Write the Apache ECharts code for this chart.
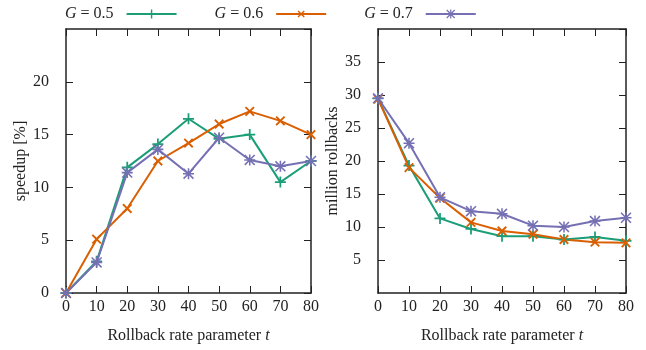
<!DOCTYPE html>
<html>
<head>
<meta charset="utf-8">
<script src="https://cdn.jsdelivr.net/npm/echarts@6/dist/echarts.min.js"></script>
<style>
    html, body { margin: 0; padding: 0; background: #fff; }
    #main { width: 646px; height: 350px; }
</style>
</head>
<body>
<div id="main"></div>
<script>
//rollback rate t
var t_values = [0, 10, 20, 30, 40, 50, 60, 70, 80];
var series_names = ['G = 0.5', 'G = 0.6', 'G = 0.7'];

//speedup [%]
var speedup_g05 = [0, 3.0, 11.9, 14.1, 16.5, 14.6, 15.0, 10.5, 12.5];
var speedup_g06 = [0, 5.1, 8.0, 12.5, 14.2, 16.0, 17.2, 16.3, 15.0];
var speedup_g07 = [0, 2.9, 11.4, 13.6, 11.3, 14.7, 12.6, 12.0, 12.5];

//million rollbacks
var rollbacks_g05 = [29.5, 19.3, 11.3, 9.7, 8.6, 8.6, 8.1, 8.5, 7.9];
var rollbacks_g06 = [29.4, 19.0, 14.4, 10.7, 9.4, 8.9, 8.1, 7.7, 7.6];
var rollbacks_g07 = [29.5, 22.7, 14.5, 12.4, 12.0, 10.2, 10.0, 10.9, 11.4];

var colors = ['#1b9e77', '#d95f02', '#7570b3'];
var font = 'Liberation Serif';
var fsize = 16;

var plus_symbol = 'path://M4.2,0H5.8V4.2H10V5.8H5.8V10H4.2V5.8H0V4.2H4.2Z';
var star_symbol = 'path://M4.3,0H5.7V4.3H10V5.7H5.7V10H4.3V5.7H0V4.3H4.3Z' +
    'M0,1L1,0L10,9L9,10Z M9,0L10,1L1,10L0,9Z';
var symbols = [plus_symbol, plus_symbol, star_symbol];
var rotates = [0, 45, 0];

function pairs(ys) {
    return t_values.map(function (t, i) { return [t, ys[i]]; });
}

var axis_line = { show: true, onZero: false, lineStyle: { color: '#222', width: 1.5 } };
var axis_tick = { show: true, inside: true, length: 7, lineStyle: { color: '#222' } };

function bottomAxis(grid) {
    return {
        type: 'value', gridIndex: grid, position: 'bottom',
        min: 0, max: 80, interval: 10,
        name: 'Rollback rate parameter {i|t}',
        nameLocation: 'middle', nameGap: 35,
        nameTextStyle: { fontFamily: font, fontSize: fsize, color: '#222', rich: { i: { fontStyle: 'italic', fontFamily: font, fontSize: fsize } } },
        axisLine: axis_line,
        axisTick: axis_tick,
        axisLabel: { fontFamily: font, fontSize: fsize, color: '#222', margin: 6 },
        splitLine: { show: false }
    };
}
function topAxis(grid) {
    return {
        type: 'value', gridIndex: grid, position: 'top',
        min: 0, max: 80, interval: 10,
        axisLine: axis_line,
        axisTick: axis_tick,
        axisLabel: { show: false },
        splitLine: { show: false }
    };
}
function leftAxis(grid, max, name) {
    return {
        type: 'value', gridIndex: grid, position: 'left',
        min: 0, max: max, interval: 5,
        name: name, nameLocation: 'middle', nameGap: grid == 0 ? 34 : 36,
        nameTextStyle: { fontFamily: font, fontSize: fsize, color: '#222' },
        axisLine: axis_line,
        axisTick: axis_tick,
        axisLabel: { fontFamily: font, fontSize: fsize, color: '#222', margin: 17, showMaxLabel: false, showMinLabel: grid == 0 },
        splitLine: { show: false }
    };
}
function rightAxis(grid, max) {
    return {
        type: 'value', gridIndex: grid, position: 'right',
        min: 0, max: max, interval: 5,
        axisLine: axis_line,
        axisTick: axis_tick,
        axisLabel: { show: false },
        splitLine: { show: false }
    };
}

function makeSeries(name, idx, data, axis) {
    return {
        name: name,
        type: 'line',
        xAxisIndex: axis,
        yAxisIndex: axis,
        data: pairs(data),
        symbol: symbols[idx],
        symbolRotate: rotates[idx],
        symbolSize: idx == 1 ? 12 : 11,
        showAllSymbol: true,
        color: colors[idx],
        lineStyle: { width: 2, color: colors[idx] },
        itemStyle: { color: colors[idx] },
        animation: false
    };
}

var chart = echarts.init(document.getElementById('main'));
option = {
    animation: false,
    legend: {
        data: series_names,
        top: 1,
        left: 60,
        align: 'right',
        itemWidth: 50,
        itemHeight: 11,
        itemGap: 37,
        formatter: function (name) { return '{i|G}{n|' + name.slice(1) + '}'; },
        textStyle: {
            fontFamily: font, fontSize: fsize, color: '#222',
            rich: {
                i: { fontStyle: 'italic', fontFamily: font, fontSize: fsize, color: '#222' },
                n: { fontFamily: font, fontSize: fsize, color: '#222', padding: [0, 8, 0, 0] }
            }
        }
    },
    grid: [
        { left: 66, top: 29, width: 245, height: 264 },
        { left: 378, top: 29, width: 248, height: 264 }
    ],
    xAxis: [bottomAxis(0), bottomAxis(1), topAxis(0), topAxis(1)],
    yAxis: [
        leftAxis(0, 25, 'speedup [%]'),
        leftAxis(1, 40, 'million rollbacks'),
        rightAxis(0, 25),
        rightAxis(1, 40)
    ],
    series: [
        makeSeries(series_names[0], 0, speedup_g05, 0),
        makeSeries(series_names[1], 1, speedup_g06, 0),
        makeSeries(series_names[2], 2, speedup_g07, 0),
        makeSeries(series_names[0], 0, rollbacks_g05, 1),
        makeSeries(series_names[1], 1, rollbacks_g06, 1),
        makeSeries(series_names[2], 2, rollbacks_g07, 1)
    ]
};
chart.setOption(option);
</script>
</body>
</html>
